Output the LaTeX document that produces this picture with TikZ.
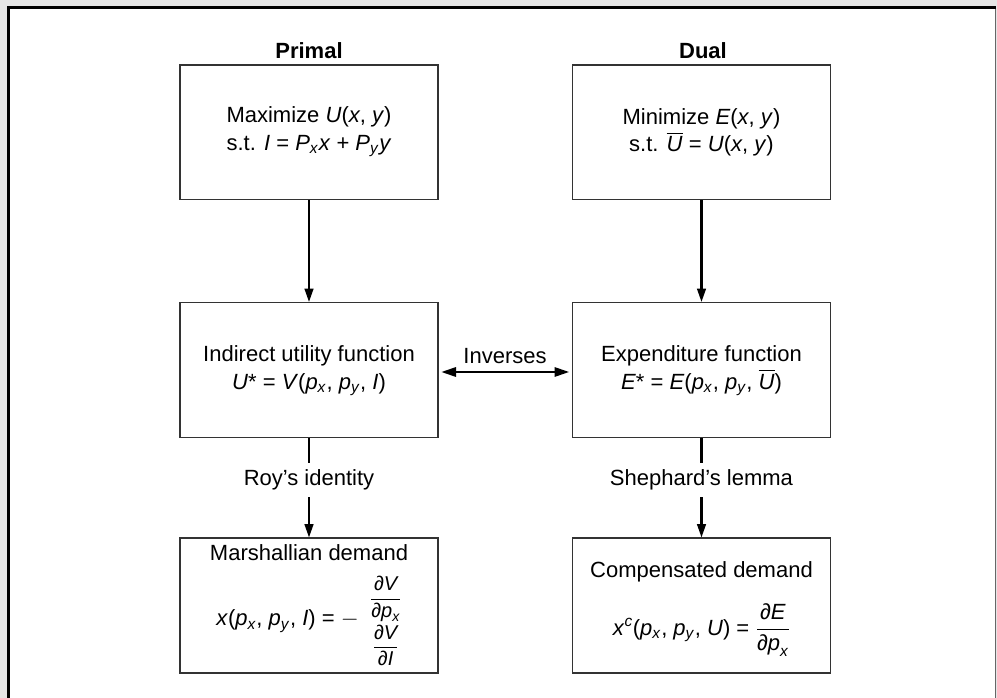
\documentclass[tikz,border=0pt]{standalone}
\usepackage{amsmath}
\usepackage{fontspec}
\setmainfont{Liberation Sans}
\usetikzlibrary{arrows.meta}
\newcommand{\mi}[1]{\textit{#1}}
\newcommand{\pd}{\text{∂}}
\newcommand{\Ubar}{$\overline{\text{\mi{U}}}$}
\tikzset{
  box/.style={draw=black!80, line width=1pt, minimum width=193.5pt, minimum height=101pt, inner sep=0pt},
  txt/.style={align=center, inner sep=0pt, font=\fontsize{16.5}{20.5}\selectfont},
  arr/.style={draw=black, line width=1.6pt, -{Triangle[length=10pt,width=6.5pt]}},
  plainln/.style={draw=black, line width=1.6pt},
  dbl/.style={draw=black, line width=1.6pt, {Triangle[length=11pt,width=7pt]}-{Triangle[length=11pt,width=7pt]}, shorten <=2pt, shorten >=2pt},
  lab/.style={font=\fontsize{16.5}{20.5}\selectfont, inner xsep=2pt, inner ysep=5pt, text height=12pt, text depth=3.5pt}
}
\begin{document}
\begin{tikzpicture}[x=0.75pt,y=-0.75pt]
\useasboundingbox (0,0) rectangle (997,698);
% frame
\fill[black!10] (0,0) rectangle (997,698);
\fill[white] (7,6) rectangle (996,698);
\draw[black!60, line width=0.8pt] (995.8,7) -- (995.8,698);
\draw[black, line width=2.2pt] (8.5,698) -- (8.5,7.5) -- (996,7.5);
% headers
\node[txt, font=\fontsize{16.5}{20.5}\selectfont\bfseries] (primal) at (309,51) {Primal};
\node[txt, font=\fontsize{16.5}{20.5}\selectfont\bfseries] (dual) at (703,51) {Dual};
% boxes
\node[box] (pmax) at (309,132.5) {};
\node[txt] (pmaxt) at (309,132) {Maximize \mi{U}(\mi{x}, \mi{y})\\ s.t. \mi{I} = \mi{P}\textsubscript{\mi{x}}\mi{x} + \mi{P}\textsubscript{\mi{y}}\mi{y}};
\node[box] (dmin) at (701.5,132.5) {};
\node[txt] (dmint) at (701.5,132) {Minimize \mi{E}(\mi{x}, \mi{y})\\ s.t. \Ubar{} = \mi{U}(\mi{x}, \mi{y})};
\node[box] (pind) at (309,370) {};
\node[txt] (pindt) at (309,371) {Indirect utility function\\ \mi{U}* = \mi{V}(\mi{p}\textsubscript{\mi{x}}, \mi{p}\textsubscript{\mi{y}}, \mi{I})};
\node[box] (dexp) at (701.5,370) {};
\node[txt] (dexpt) at (701.5,371) {Expenditure function\\ \mi{E}* = \mi{E}(\mi{p}\textsubscript{\mi{x}}, \mi{p}\textsubscript{\mi{y}}, \Ubar)};
\node[box] (pmar) at (309,605.5) {};
\node[txt] (pmart) at (309,553) {Marshallian demand};
\node[txt] (pmarf) at (309,621) {\mi{x}(\mi{p}\textsubscript{\mi{x}}, \mi{p}\textsubscript{\mi{y}}, \mi{I}) = $-$\enspace {\fontsize{15}{17}\selectfont$\begin{array}{@{}c@{}}\dfrac{\pd\mi{V}}{\pd\mi{p}_{\mi{x}}}\\ \noalign{\vskip 2pt} \dfrac{\pd\mi{V}}{\pd\mi{I}}\end{array}$}};
\node[box] (dcom) at (701.5,605.5) {};
\node[txt] (dcomt) at (701.5,572) {Compensated demand};
\node[txt] (dcomf) at (701.5,630) {\mi{x}\textsuperscript{\mi{c}}(\mi{p}\textsubscript{\mi{x}}, \mi{p}\textsubscript{\mi{y}}, \mi{U}) = $\dfrac{\pd\mi{E}}{\pd\mi{p}_{\mi{x}}}$};
% connectors
\draw[arr] (pmax) -- (pind);
\draw[arr] (dmin) -- (dexp);
\node[lab] (roy) at (309,480) {Roy’s identity};
\node[lab] (shep) at (701.5,480) {Shephard’s lemma};
\draw[plainln] (pind) -- (roy);
\draw[arr] (roy) -- (pmar);
\draw[plainln] (dexp) -- (shep);
\draw[arr] (shep) -- (dcom);
\node[txt] (inv) at (505,356) {Inverses};
\draw[dbl] ([yshift=-1.5pt]pind.east) -- ([yshift=-1.5pt]dexp.west);
\end{tikzpicture}
\end{document}
